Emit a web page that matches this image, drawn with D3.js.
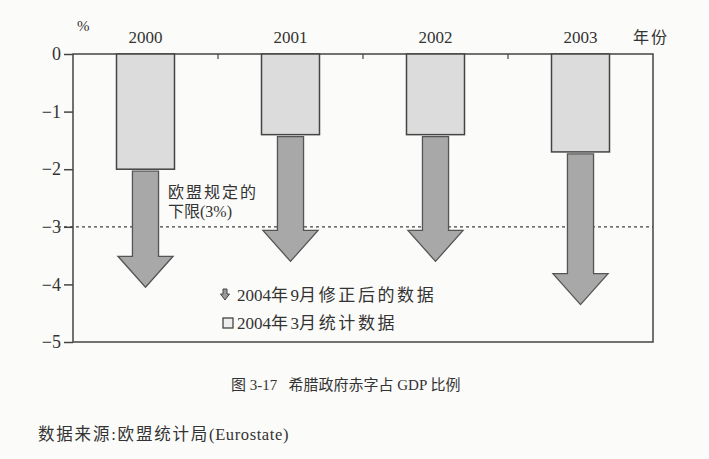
<!DOCTYPE html>
<html>
<head>
<meta charset="utf-8">
<script src="https://cdn.jsdelivr.net/npm/d3@7"></script>
<style>
  body { margin: 0; background: #fbfbf9; }
  svg { display: block; }
  text { font-family: "Liberation Serif", "DejaVu Serif", "Noto Sans CJK SC", serif; fill: #333; }
</style>
</head>
<body>
<svg id="chart" width="709" height="459"></svg>
<script>
// data
const years = ["2000", "2001", "2002", "2003"];
const marchValues = [-2.0, -1.4, -1.4, -1.7];      // 2004年3月统计数据
const septValues = [-4.05, -3.6, -3.6, -4.35];     // 2004年9月修正后的数据
const yTicks = [0, -1, -2, -3, -4, -5];
const limitValue = -3;

const svg = d3.select("#chart");

const x = d3.scaleBand().domain(years).range([73, 653]).padding(0);
const y = d3.scaleLinear().domain([0, -5]).range([54, 342]);

const bw = x.bandwidth();
const barW = bw * 0.4;
const shaftW = bw * 0.18;
const headW = bw * 0.38;
const headLen = 31;

// frame
svg.append("rect")
  .attr("x", x.range()[0])
  .attr("y", y(0))
  .attr("width", x.range()[1] - x.range()[0])
  .attr("height", y(-5) - y(0))
  .attr("fill", "none")
  .attr("stroke", "#444")
  .attr("stroke-width", 1.5);

// y axis
const yAxis = svg.append("g")
  .attr("transform", `translate(${x.range()[0]},0)`)
  .call(d3.axisLeft(y).tickValues(yTicks).tickSize(9).tickPadding(3).tickFormat(d3.format("d")));
yAxis.select(".domain").remove();
yAxis.selectAll(".tick line").attr("stroke", "#444").attr("stroke-width", 1.5);
yAxis.selectAll(".tick text")
  .attr("font-size", 18)
  .attr("fill", "#333")
  .style("font-family", "'Liberation Serif', serif");

// small ticks on the top axis between categories
svg.append("g")
  .selectAll("line")
  .data(years.slice(1))
  .join("line")
  .attr("x1", (d) => x(d))
  .attr("x2", (d) => x(d))
  .attr("y1", y(0))
  .attr("y2", y(0) + 5)
  .attr("stroke", "#444")
  .attr("stroke-width", 1.2);

// dotted EU limit line
svg.append("line")
  .attr("x1", 58)
  .attr("x2", x.range()[1])
  .attr("y1", y(limitValue))
  .attr("y2", y(limitValue))
  .attr("stroke", "#444")
  .attr("stroke-width", 1.2)
  .attr("stroke-dasharray", "3,3");

// year labels
svg.append("g")
  .selectAll("text")
  .data(years)
  .join("text")
  .attr("x", (d) => x(d) + bw / 2)
  .attr("y", 43)
  .attr("text-anchor", "middle")
  .attr("font-size", 17)
  .text((d) => d);

svg.append("text").attr("x", 77).attr("y", 31).attr("font-size", 15).text("%");
svg.append("text").attr("x", 633).attr("y", 43).attr("font-size", 16).attr("letter-spacing", 2).text("年份");

// March 2004 bars
const data = years.map((yr, i) => ({ year: yr, march: marchValues[i], sept: septValues[i] }));

svg.append("g")
  .selectAll("rect")
  .data(data)
  .join("rect")
  .attr("x", (d) => x(d.year) + (bw - barW) / 2)
  .attr("y", y(0))
  .attr("width", barW)
  .attr("height", (d) => y(d.march) - y(0))
  .attr("fill", "#dcdcdc")
  .attr("stroke", "#444")
  .attr("stroke-width", 1.5);

// September 2004 revision arrows
function arrowPath(d) {
  const cx = x(d.year) + bw / 2;
  const top = y(d.march) + 2;
  const tip = y(d.sept);
  const base = tip - headLen;
  return `M${cx - shaftW / 2},${top}
    L${cx + shaftW / 2},${top}
    L${cx + shaftW / 2},${base}
    L${cx + headW / 2},${base}
    L${cx},${tip}
    L${cx - headW / 2},${base}
    L${cx - shaftW / 2},${base}Z`;
}

svg.append("g")
  .selectAll("path")
  .data(data)
  .join("path")
  .attr("d", arrowPath)
  .attr("fill", "#a8a8a8")
  .attr("stroke", "#555")
  .attr("stroke-width", 1.3)
  .attr("stroke-linejoin", "miter");

// annotation
svg.append("text").attr("x", 168).attr("y", 198).attr("font-size", 16).attr("letter-spacing", 2).text("欧盟规定的");
svg.append("text").attr("x", 168).attr("y", 217).attr("font-size", 16).text("下限(3%)");

// legend: digits plain, CJK spaced out
function spacedLine(g, xPos, yPos, parts, spacing) {
  const t = g.append("text").attr("x", xPos).attr("y", yPos).attr("font-size", 17);
  parts.forEach((p, i) => {
    t.append("tspan")
      .attr("letter-spacing", i % 2 === 1 ? spacing : 0)
      .text(p);
  });
}

const lg = svg.append("g");
lg.append("path")
  .attr("d", "M223,289 L227,289 L227,294 L229.5,294 L225,300 L220.5,294 L223,294Z")
  .attr("fill", "#999")
  .attr("stroke", "#444")
  .attr("stroke-width", 1);
spacedLine(lg, 237, 301, ["2004", "年", "9", "月修正后的数据"], 2.6);
lg.append("rect")
  .attr("x", 223).attr("y", 318).attr("width", 10).attr("height", 10)
  .attr("fill", "#eee").attr("stroke", "#444").attr("stroke-width", 1.3);
spacedLine(lg, 237, 329, ["2004", "年", "3", "月统计数据"], 2.6);

// caption and source
svg.append("text").attr("x", 231).attr("y", 390).attr("font-size", 15).attr("fill", "#444")
  .attr("xml:space", "preserve").text("图 3-17   希腊政府赤字占 GDP 比例");
const src = svg.append("text").attr("x", 38).attr("y", 440).attr("font-size", 16.5).attr("fill", "#333");
src.append("tspan").attr("letter-spacing", 1.8).text("数据来源:欧盟统计局");
src.append("tspan").attr("letter-spacing", 0.6).text("(Eurostate)");
</script>
</body>
</html>
